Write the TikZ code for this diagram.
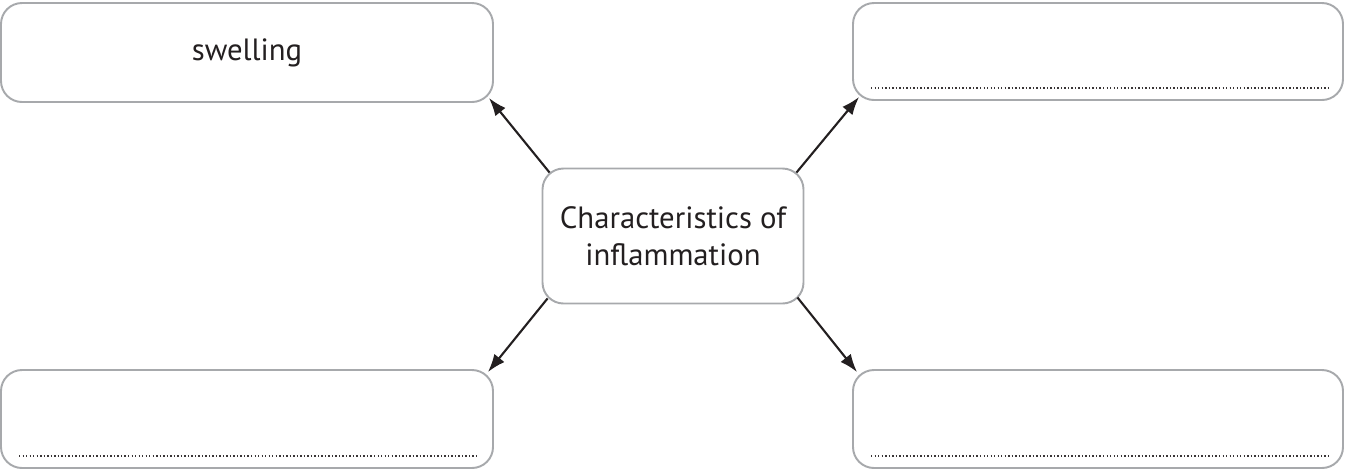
\documentclass[tikz,border=0pt]{standalone}
\usepackage{fontspec}
\setmainfont{PT Sans}
\usetikzlibrary{arrows.meta}
\definecolor{boxgray}{HTML}{A7A9AC}
\definecolor{ink}{HTML}{231F20}
\begin{document}
\begin{tikzpicture}[
box/.style = {draw = boxgray, line width = 1.1pt, rounded corners = 0.42cm, text = ink, font = \fontsize{17.5}{21}\selectfont, align = center, inner sep = 0pt},
arr/.style = {-{Latex[length = 3.6mm, width = 2.6mm]}, line width = 1.2pt, ink},
dots/.style = {ink!90, line width = 1pt, dash pattern = on 0.8pt off 1.2pt}
]
\useasboundingbox (0, 0) rectangle (26.9, -9.4);

\draw 

(4.94, -1.05) node[box, minimum width = 9.84cm, minimum height = 1.98cm](tl){swelling}
(21.96, -1.03) node[box, minimum width = 9.8cm, minimum height = 1.94cm](tr){}
(4.94, -8.38) node[box, minimum width = 9.84cm, minimum height = 1.96cm](bl){}
(21.96, -8.38) node[box, minimum width = 9.8cm, minimum height = 1.96cm](br){}
(13.46, -4.72) node[box, minimum width = 5.22cm, minimum height = 2.7cm](c){Characteristics of\\inflammation};



\draw[arr] ([shift = {(0.16, -0.1)}]c.north west) -- ([shift = {(-0.1, 0.1)}]tl.south east);
\draw[arr] ([shift = {(-0.16, -0.1)}]c.north east) -- ([shift = {(0.14, 0.08)}]tr.south west);
\draw[arr] ([shift = {(0.12, 0.12)}]c.south west) -- ([shift = {(-0.12, -0.06)}]bl.north east);
\draw[arr] ([shift = {(-0.14, 0.14)}]c.south east) -- ([shift = {(0.1, -0.06)}]br.north west);

\draw[dots] ([xshift = 0.38cm, yshift = 0.26cm]tr.south west) -- ([xshift = -0.3cm, yshift = 0.26cm]tr.south east);
\draw[dots] ([xshift = 0.38cm, yshift = 0.26cm]bl.south west) -- ([xshift = -0.3cm, yshift = 0.26cm]bl.south east);
\draw[dots] ([xshift = 0.38cm, yshift = 0.26cm]br.south west) -- ([xshift = -0.3cm, yshift = 0.26cm]br.south east);


\end{tikzpicture}
\end{document}
